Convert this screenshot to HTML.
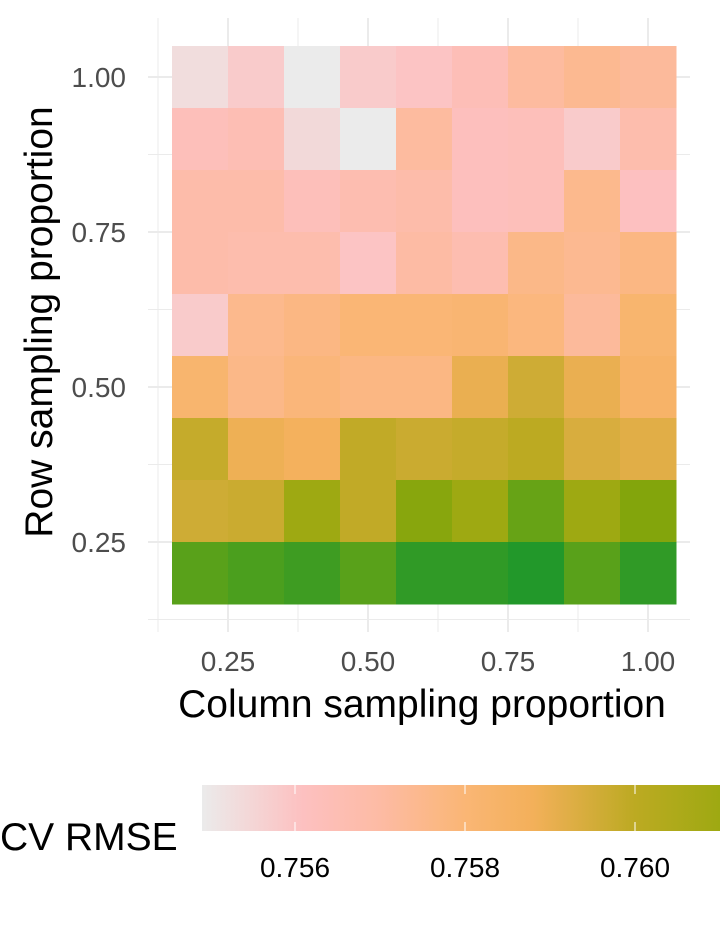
<!DOCTYPE html>
<html><head><meta charset="utf-8"><style>
body{margin:0;background:#fff;}
svg text{font-family:"Liberation Sans",sans-serif;}
</style></head><body>
<svg id="chart" width="720" height="921" viewBox="0 0 720 921" xmlns="http://www.w3.org/2000/svg">
<defs>
<linearGradient id="lg" x1="202" x2="720" y1="0" y2="0" gradientUnits="userSpaceOnUse"></linearGradient>
</defs>
<g id="grid"></g>
<g id="cells"></g>
<g id="axes"></g>
<text x="422" y="717" font-size="39" text-anchor="middle" fill="#000">Column sampling proportion</text>
<text transform="translate(52,322) rotate(-90)" font-size="39" text-anchor="middle" fill="#000">Row sampling proportion</text>
<text x="0" y="850" font-size="39" fill="#000">CV RMSE</text>
<rect x="202" y="785" width="518" height="46" fill="url(#lg)"/>
<g id="legend"></g>
</svg>
<script>
const colVals=[0.2,0.3,0.4,0.5,0.6,0.7,0.8,0.9,1.0];
const rowVals=[1.0,0.9,0.8,0.7,0.6,0.5,0.4,0.3,0.2];
const rmse=[
[0.7553,0.7558,0.7549,0.7558,0.7560,0.7564,0.7571,0.7574,0.7572],
[0.7563,0.7565,0.7554,0.7549,0.7571,0.7562,0.7563,0.7558,0.7567],
[0.7568,0.7568,0.7563,0.7566,0.7568,0.7562,0.7563,0.7575,0.7561],
[0.7568,0.7567,0.7567,0.7560,0.7570,0.7566,0.7576,0.7574,0.7577],
[0.7558,0.7575,0.7577,0.7580,0.7580,0.7581,0.7578,0.7572,0.7582],
[0.7582,0.7576,0.7579,0.7577,0.7577,0.7590,0.7596,0.7590,0.7584],
[0.7598,0.7589,0.7587,0.7599,0.7597,0.7598,0.7600,0.7594,0.7592],
[0.7596,0.7597,0.7610,0.7599,0.7614,0.7610,0.7620,0.7610,0.7615],
[0.7623,0.7626,0.7629,0.7623,0.7632,0.7632,0.7635,0.7623,0.7632]];
const xTicks=[0.25,0.5,0.75,1.0];
const yTicks=[0.25,0.5,0.75,1.0];
const legendTicks=[0.756,0.758,0.760];
const stopVals=[0.7549,0.7561,0.7570,0.7580,0.7588,0.7600,0.7610,0.7615,0.7620,0.7635];
const stopCols=["#ebebeb","#fdc0c0","#fdbba4","#fab675","#f3b05a","#bcaa22","#9ea912","#83a50c","#67a316","#22982a"];

const NS="http://www.w3.org/2000/svg";
const xS=v=>200+(v-0.2)*560;
const yS=v=>77+(1.0-v)*620;
const lS=v=>295+(v-0.756)*85000;
function hex(c){return [1,3,5].map(i=>parseInt(c.substr(i,2),16));}
function color(v){
  if(v<=stopVals[0])return stopCols[0];
  for(let i=1;i<stopVals.length;i++){
    if(v<=stopVals[i]){const t=(v-stopVals[i-1])/(stopVals[i]-stopVals[i-1]);
      const a=hex(stopCols[i-1]),b=hex(stopCols[i]);
      return "rgb("+a.map((x,k)=>Math.round(x+(b[k]-x)*t)).join(",")+")";}
  }
  return stopCols[stopCols.length-1];
}
function mk(tag,attrs,parent){const e=document.createElementNS(NS,tag);for(const k in attrs)e.setAttribute(k,attrs[k]);parent.appendChild(e);return e;}
const grid=document.getElementById('grid');
for(let v=0.125;v<=1.126;v+=0.125){
  const y=yS(v);
  const l=mk('line',{x1:148,x2:690,y1:y,y2:y,stroke:'#ebebeb','stroke-width':Math.abs((v*4)%1)<0.01?2:1},grid);
  
  
  const x=xS(v);
  if(x>=150&&x<=690){const m=mk('line',{x1:x,x2:x,y1:18,y2:632,stroke:'#ebebeb','stroke-width':Math.abs((v*4)%1)<0.01?2:1},grid);
  
  }
}
const cells=document.getElementById('cells');
rowVals.forEach((r,i)=>colVals.forEach((c,j)=>{
  const e=mk('rect',{x:xS(c)-28,y:yS(r)-31,width:56.5,height:62.5,fill:color(rmse[i][j])},cells);
  
  
}));
const axes=document.getElementById('axes');
xTicks.forEach(v=>{const t=mk('text',{x:xS(v),y:671,'font-size':28,'text-anchor':'middle',fill:'#4d4d4d'},axes);t.textContent=v.toFixed(2);
  
  });
yTicks.forEach(v=>{const t=mk('text',{x:126,y:yS(v)+10,'font-size':28,'text-anchor':'end',fill:'#4d4d4d'},axes);t.textContent=v.toFixed(2);
  
  });
const lg=document.getElementById('lg');
stopVals.forEach((v,i)=>{mk('stop',{offset:((lS(v)-202)/518*100)+'%','stop-color':stopCols[i]},lg);});
const leg=document.getElementById('legend');
legendTicks.forEach(v=>{
  mk('line',{x1:lS(v),x2:lS(v),y1:785,y2:794,stroke:'#fff','stroke-width':1},leg);
  mk('line',{x1:lS(v),x2:lS(v),y1:822,y2:831,stroke:'#fff','stroke-width':1},leg);
  const t=mk('text',{x:lS(v),y:877,'font-size':28,'text-anchor':'middle',fill:'#000'},leg);t.textContent=v.toFixed(3);
  
  
});
</script>
</body></html>
